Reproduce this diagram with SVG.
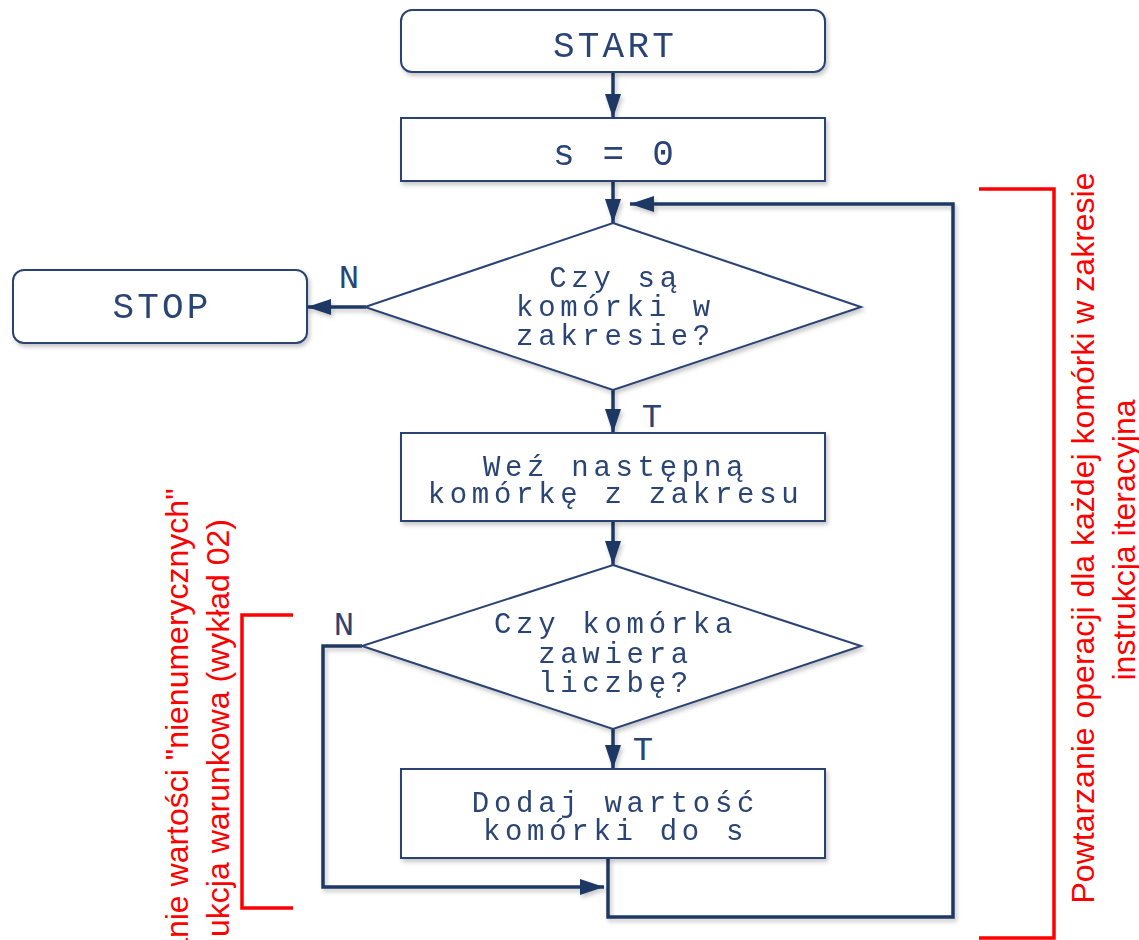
<svg xmlns="http://www.w3.org/2000/svg" width="1139" height="940" viewBox="0 0 1139 940">
<style>
.node{fill:#ffffff;stroke:#2a4373;stroke-width:2}
.t{font-family:"Liberation Mono","DejaVu Sans Mono",monospace;fill:#2b4474;text-anchor:middle}
.big{font-size:36px;letter-spacing:3.2px}
.sm{font-size:29px;letter-spacing:4.7px}
.lbl{font-family:"Liberation Mono","DejaVu Sans Mono",monospace;fill:#2b4474;font-size:34px;text-anchor:middle}
.con{fill:none;stroke:#1f3864;stroke-width:3.5}
.red{fill:none;stroke:#ff0000;stroke-width:3.5}
.rt{font-family:"Liberation Sans",Arial,sans-serif;font-size:32px;fill:#ff0000}
</style>
<defs>
<filter id="sh" x="-10%" y="-10%" width="130%" height="140%">
<feDropShadow dx="2" dy="3" stdDeviation="2.2" flood-color="#000000" flood-opacity="0.22"/>
</filter>
<marker id="ah" viewBox="0 0 24 16" refX="24" refY="8" markerWidth="24" markerHeight="16" markerUnits="userSpaceOnUse" orient="auto">
<path d="M0,0 L24,8 L0,16 z" fill="#1f3864"/>
</marker>
</defs>

<g id="connectors" filter="url(#sh)">
<path class="con" d="M613,72 V118" marker-end="url(#ah)"/>
<path class="con" d="M613,181 V223" marker-end="url(#ah)"/>
<path class="con" d="M366,307 H307" marker-end="url(#ah)"/>
<path class="con" d="M613,390 V433" marker-end="url(#ah)"/>
<path class="con" d="M613,521 V565" marker-end="url(#ah)"/>
<path class="con" d="M613,729 V769" marker-end="url(#ah)"/>
<path class="con" d="M362,646 H323 V887 H604" marker-end="url(#ah)"/>
<path class="con" d="M608,858 V917 H953 V204 H630" marker-end="url(#ah)"/>
</g>

<g id="start" filter="url(#sh)">
<rect class="node" x="401" y="10" width="424" height="62" rx="11"/>
<text class="t big" x="615" y="57">START</text>
</g>
<g id="init" filter="url(#sh)">
<rect class="node" x="401" y="118" width="424" height="63"/>
<text class="t big" x="615" y="165">s = 0</text>
</g>
<g id="cond1" filter="url(#sh)">
<polygon class="node" points="613,223 861,307 613,390 365,307"/>
<text class="t sm" x="615.5" y="287">Czy są</text>
<text class="t sm" x="615.5" y="316">komórki w</text>
<text class="t sm" x="615.5" y="345">zakresie?</text>
</g>
<g id="stop" filter="url(#sh)">
<rect class="node" x="13" y="270" width="294" height="73" rx="11"/>
<text class="t big" x="162" y="318">STOP</text>
</g>
<g id="next" filter="url(#sh)">
<rect class="node" x="401" y="433" width="424" height="88"/>
<text class="t sm" x="615.5" y="476">Weź następną</text>
<text class="t sm" x="615.5" y="503">komórkę z zakresu</text>
</g>
<g id="cond2" filter="url(#sh)">
<polygon class="node" points="613,565 861,646 613,729 362,646"/>
<text class="t sm" x="615.5" y="633">Czy komórka</text>
<text class="t sm" x="615.5" y="663">zawiera</text>
<text class="t sm" x="615.5" y="692">liczbę?</text>
</g>
<g id="add" filter="url(#sh)">
<rect class="node" x="401" y="769" width="424" height="89"/>
<text class="t sm" x="615.5" y="812">Dodaj wartość</text>
<text class="t sm" x="615.5" y="840">komórki do s</text>
</g>

<g id="labels">
<text class="lbl" x="349" y="288">N</text>
<text class="lbl" x="652" y="427">T</text>
<text class="lbl" x="344" y="635">N</text>
<text class="lbl" x="643" y="760">T</text>
</g>

<g id="annotations">
<path class="red" d="M293,615 H242 V908 H293"/>
<path class="red" d="M979,189 H1054 V938 H979"/>
<text class="rt" text-anchor="end" transform="translate(188,488.5) rotate(-90)">anie wartości "nienumerycznych"</text>
<text class="rt" text-anchor="end" transform="translate(229,519) rotate(-90)">ukcja warunkowa (wykład 02)</text>
<text class="rt" text-anchor="middle" transform="translate(1094,538) rotate(-90)">Powtarzanie operacji dla każdej komórki w zakresie</text>
<text class="rt" text-anchor="middle" transform="translate(1135,540) rotate(-90)">instrukcja iteracyjna</text>
</g>
</svg>
